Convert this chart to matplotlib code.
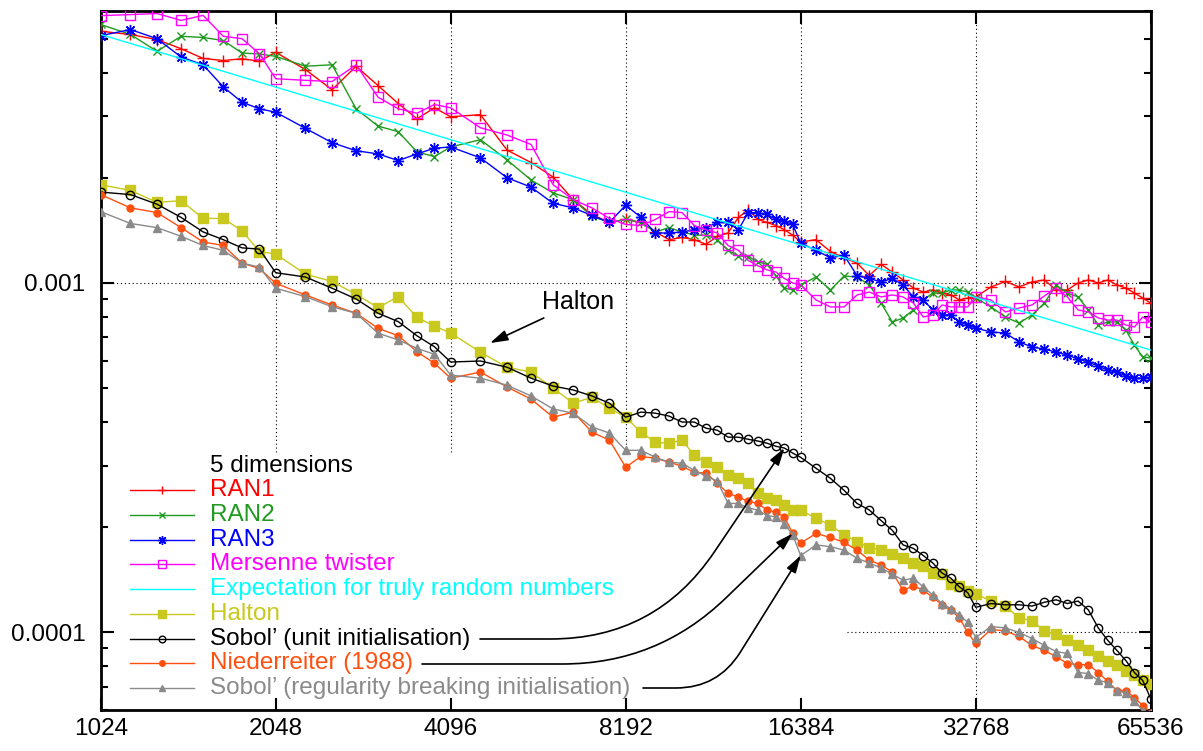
import numpy as np
import matplotlib.pyplot as plt
from matplotlib.ticker import FixedLocator, LogLocator, NullFormatter, NullLocator

plt.rcParams['font.family'] = ['Liberation Sans', 'DejaVu Sans']
plt.rcParams['font.size'] = 17.5

# number of points
N = [1024, 1152, 1280, 1408, 1536, 1664, 1792, 1920, 2048,
     2304, 2560, 2816, 3072, 3328, 3584, 3840, 4096,
     4608, 5120, 5632, 6144, 6656, 7168, 7680, 8192,
     8704, 9216, 9728, 10240, 10752, 11264, 11776, 12288,
     12800, 13312, 13824, 14336, 14848, 15360, 15872, 16384,
     17408, 18432, 19456, 20480, 21504, 22528, 23552, 24576,
     25600, 26624, 27648, 28672, 29696, 30720, 31744, 32768,
     34816, 36864, 38912, 40960, 43008, 45056, 47104, 49152,
     51200, 53248, 55296, 57344, 59392, 61440, 63488, 65536]

# errors, in units of 1e-4
ran1 = [52.5, 51.4, 49.7, 46.8, 43.9, 43.3, 43.8, 43.1, 45.7,
        40.8, 35.7, 41.7, 36.7, 32.6, 29.5, 31.7, 29.9,
        30.3, 24.0, 22.1, 20.1, 17.3, 15.7, 14.9, 15.2,
        14.9, 14.0, 13.3, 13.5, 13.3, 12.9, 13.6, 13.9,
        15.4, 16.2, 15.2, 14.9, 14.6, 14.2, 13.7, 13.1,
        13.3, 12.3, 11.8, 11.4, 10.5, 11.3, 10.75, 10.2,
        9.67, 9.42, 9.55, 9.36, 9.24, 8.94, 9.06, 9.12,
        9.74, 10.1, 9.74, 10.07, 10.2, 9.55, 9.55, 10.0,
        10.2, 10.0, 10.2, 9.87, 9.67, 9.36, 9.06, 8.76]
ran2 = [54.9, 51.4, 46.0, 50.8, 50.4, 49.4, 45.5, 45.2, 44.5,
        41.7, 42.1, 31.5, 28.1, 27.1, 23.7, 23.0, 24.5,
        25.7, 22.5, 19.7, 18.1, 17.3, 15.5, 14.9, 15.2,
        14.9, 14.0, 14.4, 14.0, 13.7, 13.7, 13.3, 12.4,
        11.95, 11.9, 11.5, 11.3, 10.5, 9.67, 9.55, 9.87,
        10.4, 9.55, 10.47, 10.4, 9.87, 8.76, 7.73, 7.94,
        8.37, 8.94, 9.36, 9.36, 9.55, 9.55, 9.42, 9.06,
        8.54, 7.99, 7.68, 8.10, 8.76, 9.87, 9.36, 9.12,
        8.37, 7.58, 7.73, 7.73, 7.33, 6.64, 6.14, 6.10]
ran3 = [51.0, 53.1, 50.0, 44.3, 42.1, 36.4, 32.9, 31.5, 30.8,
        27.7, 25.2, 23.9, 23.4, 22.4, 23.4, 24.3, 24.5,
        22.8, 20.0, 18.8, 16.9, 16.4, 15.6, 14.9, 16.7,
        15.4, 13.9, 13.9, 14.0, 14.2, 14.4, 14.9, 14.9,
        14.2, 15.9, 15.9, 15.7, 15.2, 15.0, 14.7, 13.0,
        12.4, 11.8, 12.0, 10.5, 10.3, 10.07, 10.3, 9.87,
        9.12, 8.94, 8.37, 8.10, 8.10, 7.73, 7.58, 7.43,
        7.24, 7.19, 6.78, 6.56, 6.47, 6.34, 6.22, 6.06,
        5.94, 5.78, 5.63, 5.56, 5.41, 5.34, 5.34, 5.38]
mersenne = [58.2, 58.6, 59.0, 56.4, 58.3, 50.8, 50.0, 45.3, 38.4,
            38.0, 37.7, 42.1, 34.0, 31.5, 30.6, 32.4, 31.7,
            27.8, 26.5, 24.9, 19.1, 17.3, 16.4, 15.3, 14.7,
            14.6, 15.2, 16.0, 15.9, 14.6, 14.2, 13.9, 12.8,
            12.4, 11.6, 11.2, 10.9, 10.75, 10.3, 10.0, 9.87,
            8.94, 8.54, 8.54, 9.24, 9.42, 9.12, 9.24, 9.12,
            8.76, 7.99, 8.10, 8.65, 8.54, 8.54, 8.54, 9.12,
            8.94, 8.26, 8.48, 8.65, 9.18, 9.67, 9.12, 8.37,
            8.26, 7.94, 7.83, 7.83, 7.58, 7.48, 7.99, 7.73]
halton = [19.1, 18.4, 17.0, 17.2, 15.3, 15.3, 14.1, 12.3, 12.1,
          10.6, 10.1, 9.28, 8.50, 9.14, 7.97, 7.53, 7.19,
          6.34, 5.74, 5.56, 5.00, 4.53, 4.71, 4.38, 4.13,
          3.74, 3.50, 3.48, 3.55, 3.21, 3.07, 2.97, 2.82,
          2.76, 2.67, 2.50, 2.42, 2.40, 2.31, 2.24, 2.24,
          2.12, 2.03, 1.90, 1.82, 1.75, 1.72, 1.68, 1.63,
          1.58, 1.55, 1.48, 1.47, 1.38, 1.36, 1.31, 1.29,
          1.23, 1.19, 1.10, 1.08, 1.01, 0.987, 0.949, 0.918,
          0.888, 0.859, 0.831, 0.809, 0.778, 0.758, 0.729, 0.714]
sobol_unit = [18.2, 17.9, 16.8, 15.4, 14.0, 13.3, 12.6, 12.5, 10.7,
              10.4, 9.66, 9.00, 8.19, 7.75, 7.06, 6.57, 5.94,
              5.98, 5.74, 5.34, 5.07, 4.94, 4.75, 4.53, 4.13,
              4.27, 4.24, 4.16, 4.00, 4.00, 3.84, 3.79, 3.62,
              3.62, 3.57, 3.53, 3.48, 3.41, 3.37, 3.26, 3.17,
              2.95, 2.76, 2.55, 2.34, 2.24, 2.09, 1.96, 1.78,
              1.74, 1.66, 1.58, 1.48, 1.43, 1.35, 1.30, 1.18,
              1.21, 1.20, 1.20, 1.19, 1.22, 1.24, 1.21, 1.23,
              1.16, 1.03, 0.949, 0.888, 0.831, 0.768, 0.729, 0.647]
niederreiter = [17.9, 16.4, 15.9, 14.4, 13.1, 12.8, 11.4, 11.0, 9.98,
                9.24, 8.65, 8.19, 7.42, 7.06, 6.36, 5.89, 5.34,
                5.56, 5.04, 4.65, 4.13, 4.27, 3.74, 3.55, 2.97,
                3.19, 3.15, 3.07, 2.99, 2.87, 2.86, 2.67, 2.50,
                2.44, 2.37, 2.34, 2.24, 2.21, 2.14, 1.92, 1.80,
                1.92, 1.87, 1.81, 1.72, 1.61, 1.56, 1.49, 1.32,
                1.36, 1.32, 1.26, 1.20, 1.16, 1.10, 1.00, 0.930,
                1.02, 1.01, 0.974, 0.918, 0.888, 0.853, 0.815, 0.809,
                0.809, 0.768, 0.724, 0.682, 0.682, 0.651, 0.618, 0.590]
sobol_rb = [16.0, 14.8, 14.4, 13.6, 12.8, 12.4, 11.4, 11.1, 9.66,
            9.14, 8.55, 8.19, 7.18, 6.87, 6.50, 6.25, 5.45,
            5.34, 5.10, 4.75, 4.36, 4.24, 3.87, 3.72, 3.32,
            3.32, 3.17, 3.07, 3.05, 2.91, 2.80, 2.71, 2.34,
            2.34, 2.27, 2.24, 2.16, 2.14, 2.05, 1.90, 1.66,
            1.78, 1.76, 1.72, 1.63, 1.58, 1.53, 1.47, 1.41,
            1.43, 1.35, 1.28, 1.21, 1.17, 1.12, 1.07, 0.967,
            1.04, 1.03, 1.00, 0.961, 0.918, 0.882, 0.871, 0.768,
            0.763, 0.729, 0.719, 0.682, 0.673, 0.638, 0.598, 0.590]

# expectation for truly random numbers, end points only
expect_n = [1024, 65536]
expect = [51.4, 6.43]

x_ticks = [1024, 2048, 4096, 8192, 16384, 32768, 65536]

# label, values, colour, marker, size, filled
series = [
    ('RAN1', ran1, '#ff0000', '+', 8, True),
    ('RAN2', ran2, '#1e9a1e', 'x', 6, True),
    ('RAN3', ran3, '#0000ff', (8, 2, 0), 8, True),
    ('Mersenne twister', mersenne, '#ff00ff', 's', 7, False),
    ('Expectation for truly random numbers', expect, '#00ffff', None, 0, True),
    ('Halton', halton, '#c8c81e', 's', 6.5, True),
    ('Sobol\u2019 (unit initialisation)', sobol_unit, '#000000', 'o', 6, False),
    ('Niederreiter (1988)', niederreiter, '#ff5010', 'o', 5, True),
    ('Sobol\u2019 (regularity breaking initialisation)', sobol_rb, '#8a8a8a', '^', 5.5, True),
]

fig = plt.figure(figsize=(12.03, 7.51), dpi=100)
ax = fig.add_axes([0.08371, 0.05459, 0.87282, 0.93076])

for label, vals, col, mk, ms, filled in series:
    xs = expect_n if mk is None else N
    ax.plot(xs, np.array(vals) * 1e-4, color=col, lw=1.0, marker=mk, ms=ms,
            mfc=col if filled else 'none', mec=col, mew=1.0, zorder=3)

ax.set_xscale('log', base=2)
ax.set_yscale('log')
ax.set_xlim(1024, 65536)
ax.set_ylim(6e-5, 6e-3)

ax.xaxis.set_major_locator(FixedLocator(x_ticks))
ax.xaxis.set_minor_locator(NullLocator())
ax.set_xticklabels([str(v) for v in x_ticks])
ax.yaxis.set_major_locator(FixedLocator([1e-4, 1e-3]))
ax.set_yticklabels(['0.0001', '0.001'])
ax.yaxis.set_minor_locator(LogLocator(base=10, subs=np.arange(2, 10)))
ax.yaxis.set_minor_formatter(NullFormatter())
ax.tick_params(which='both', direction='in', top=True, right=True, width=1.5)
ax.tick_params(which='major', length=9)
ax.tick_params(which='minor', length=5)
ax.tick_params(axis='x', pad=6)
ax.tick_params(axis='y', pad=11)
for s in ax.spines.values():
    s.set_linewidth(2)

# dotted grid, broken where the key sits
dots = dict(color='k', lw=0.8, ls=(0, (1, 2.5)), zorder=1)
for x in x_ticks[1:5]:
    ax.axvline(x, ymin=0.369, ymax=1, **dots)
ax.axvline(32768, **dots)
ax.axhline(1e-3, **dots)
ax.axhline(1e-4, xmin=0.711, **dots)


def tx(px):
    return (px - 100.7) / 1050


def ty(py):
    return (710 - py) / 699


# key
ax.text(tx(210), ty(466), '5 dimensions', transform=ax.transAxes,
        va='center', ha='left', color='k')
for i, (label, vals, col, mk, ms, filled) in enumerate(series):
    y = ty(490 + 24.75 * i)
    ax.plot([tx(130), tx(194)], [y, y], transform=ax.transAxes, color=col,
            lw=1.0, clip_on=False, zorder=4)
    if mk is not None:
        ax.plot([tx(162)], [y], transform=ax.transAxes, marker=mk, ms=ms * 0.8,
                color=col, mfc=col if filled else 'none', mew=1.0,
                clip_on=False, zorder=4)
    ax.text(tx(210), y, label, transform=ax.transAxes, va='center', ha='left',
            color=col)

head = '-|>,head_length=0.6,head_width=0.18'
ax.annotate('Halton', xy=(4786, 6.73e-4), xytext=(6782, 8.82e-4),
            ha='center', va='center', fontsize=18,
            arrowprops=dict(arrowstyle=head, color='k', lw=1.2, shrinkB=0))

# pointers from the key entries to their curves
pointers = [
    ((480, 639), (15360, sobol_unit), 56, 105),
    ((422, 664), (15872, niederreiter), 44, 95),
    ((643, 688), (16384, sobol_rb), 58, 42),
]
for (sx, sy), (n, vals), ang, rad in pointers:
    tip = (n, vals[N.index(n)] * 1e-4)
    ax.annotate('', xy=tip, xycoords='data', xytext=(tx(sx), ty(sy)),
                textcoords='axes fraction',
                arrowprops=dict(arrowstyle=head, color='k', lw=1.2,
                                shrinkA=0, shrinkB=0,
                                connectionstyle='angle,angleA=0,angleB=%d,rad=%d'
                                % (ang, rad)))

fig.savefig('out.png', dpi=100)
